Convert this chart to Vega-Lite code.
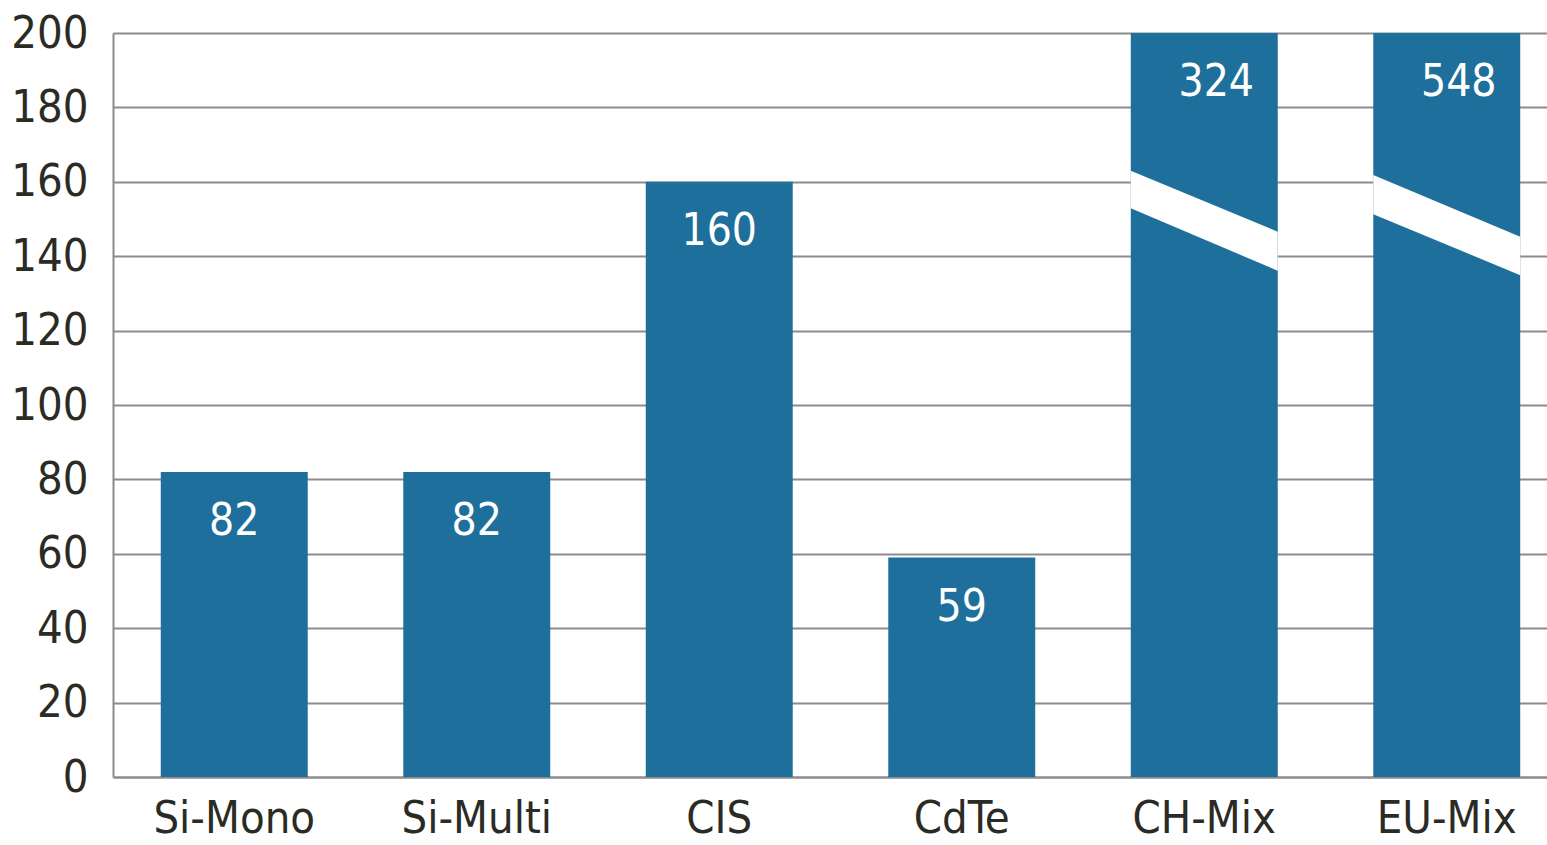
{
  "$schema": "https://vega.github.io/schema/vega-lite/v6.json",
  "width": 1434,
  "height": 744,
  "autosize": {"type": "none"},
  "padding": {"left": 113, "top": 33, "right": 0, "bottom": 68},
  "background": "white",
  "config": {
    "view": {"stroke": null},
    "font": "Liberation Sans Narrow, DejaVu Sans Condensed, sans-serif",
    "axis": {
      "labelFont": "Liberation Sans Narrow, DejaVu Sans Condensed, sans-serif",
      "labelFontSize": 45,
      "labelColor": "#2b2b25",
      "ticks": false,
      "domainColor": "#8c8c8c",
      "domainWidth": 2,
      "gridColor": "#8c8c8c",
      "gridWidth": 2,
      "title": null
    }
  },
  "datasets": {
    "bars": [
      {"tech": "Si-Mono", "value": 82},
      {"tech": "Si-Multi", "value": 82},
      {"tech": "CIS", "value": 160},
      {"tech": "CdTe", "value": 59},
      {"tech": "CH-Mix", "value": 324},
      {"tech": "EU-Mix", "value": 548}
    ],
    "breaks": [
      {"tech": "CH-Mix", "pos": 4.197, "top": 163.0, "bottom": 152.9},
      {"tech": "CH-Mix", "pos": 4.803, "top": 146.6, "bottom": 136.1},
      {"tech": "EU-Mix", "pos": 5.197, "top": 161.8, "bottom": 151.3},
      {"tech": "EU-Mix", "pos": 5.803, "top": 145.2, "bottom": 134.9}
    ]
  },
  "resolve": {"scale": {"x": "independent"}, "axis": {"x": "independent"}},
  "layer": [
    {
      "data": {"name": "bars"},
      "encoding": {
        "x": {
          "field": "tech", "type": "nominal", "sort": null,
          "scale": {"range": [0, 1455], "paddingInner": 0.394, "paddingOuter": 0.197},
          "axis": {"labelAngle": 0, "labelPadding": 19, "grid": false, "domain": true}
        },
        "y": {
          "field": "value", "type": "quantitative",
          "scale": {"domain": [0, 200], "clamp": true, "nice": false},
          "axis": {"values": [0, 20, 40, 60, 80, 100, 120, 140, 160, 180, 200], "grid": true, "labelPadding": 25, "domain": true}
        }
      },
      "layer": [
        {"mark": {"type": "bar", "color": "#1f6f9c"}},
        {
          "transform": [{"filter": "datum.value <= 200"}],
          "mark": {"type": "text", "color": "white", "fontSize": 44, "baseline": "middle", "dy": 50, "font": "Liberation Sans Narrow, DejaVu Sans Condensed, sans-serif"},
          "encoding": {"text": {"field": "value", "type": "quantitative"}}
        },
        {
          "transform": [{"filter": "datum.value > 200"}],
          "mark": {"type": "text", "color": "white", "fontSize": 44, "baseline": "middle", "dy": 50, "dx": 12, "font": "Liberation Sans Narrow, DejaVu Sans Condensed, sans-serif"},
          "encoding": {"text": {"field": "value", "type": "quantitative"}}
        }
      ]
    },
    {
      "data": {"name": "breaks"},
      "mark": {"type": "area", "color": "white", "opacity": 1},
      "encoding": {
        "x": {"field": "pos", "type": "quantitative", "scale": {"domain": [0, 6], "range": [0, 1455], "nice": false, "zero": false}, "axis": null},
        "y": {"field": "top", "type": "quantitative"},
        "y2": {"field": "bottom"},
        "detail": {"field": "tech", "type": "nominal"}
      }
    }
  ]
}
